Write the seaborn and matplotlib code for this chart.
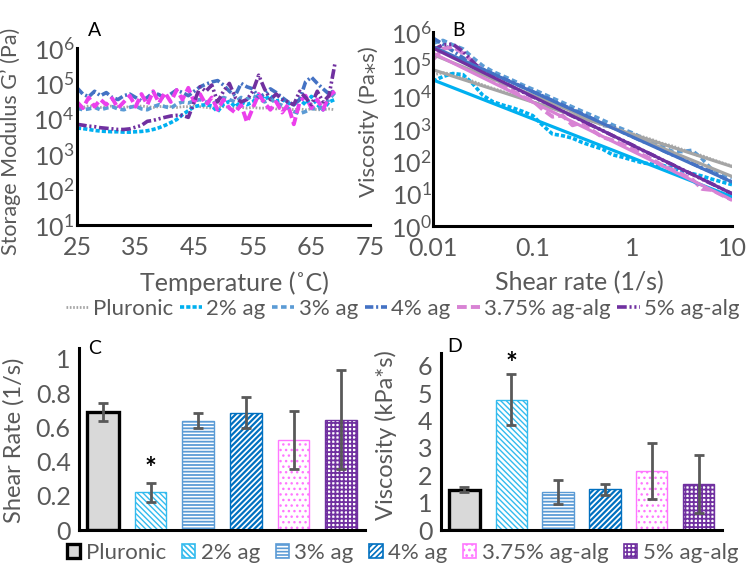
import matplotlib
matplotlib.use("Agg")
import numpy as np
import pandas as pd
import matplotlib.pyplot as plt
import seaborn as sns
from matplotlib.lines import Line2D
from matplotlib.patches import Patch
from matplotlib.ticker import FixedLocator, LogFormatterMathtext, NullLocator

# ---------------- data ----------------
series_names = ["Pluronic", "2% ag", "3% ag", "4% ag", "3.75% ag-alg", "5% ag-alg"]

temperature = [25, 26, 27, 28, 29, 30, 31, 32, 33, 34, 35, 36, 37, 38, 39,
               40, 41, 42, 43, 44, 45, 46, 47, 48, 49, 50, 51, 52, 53, 54,
               55, 56, 57, 58, 59, 60, 61, 62, 63, 64, 65, 66, 67, 68, 69]

G_pluronic = [2.2e4, 2.1e4, 2.3e4, 2.2e4, 2.1e4,
              2.2e4, 2.3e4, 2.2e4, 2.1e4, 2.2e4,
              2.2e4, 2.3e4, 2.2e4, 2.1e4, 2.2e4,
              2.3e4, 2.2e4, 2.1e4, 2.2e4, 2.2e4,
              2.3e4, 2.2e4, 2.1e4, 2.0e4, 2.1e4,
              2.2e4, 2.1e4, 2.0e4, 2.1e4, 2.0e4,
              2.1e4, 2.0e4, 2.0e4, 2.1e4, 1.9e4,
              2.0e4, 1.9e4, 1.8e4, 1.9e4, 1.8e4,
              1.9e4, 1.8e4, 1.8e4, 1.9e4, 1.8e4]
G_ag2 = [5.5e3, 5.3e3, 5.0e3, 4.7e3, 4.5e3,
         4.4e3, 4.3e3, 4.3e3, 4.2e3, 4.2e3,
         4.3e3, 4.4e3, 4.6e3, 5.0e3, 5.6e3,
         6.5e3, 7.8e3, 9.5e3, 1.3e4, 1.7e4,
         2.2e4, 2.4e4, 2.5e4, 2.3e4, 1.6e4,
         2.6e4, 3.1e4, 2.2e4, 3.0e4, 2.5e4,
         3.0e4, 4.8e4, 3.5e4, 4.5e4, 3.2e4,
         3.5e4, 2.8e4, 2.5e4, 3.5e4, 2.5e4,
         4.3e4, 2.5e4, 1.8e4, 3.0e4, 3.5e4]
G_ag3 = [2.0e4, 1.8e4, 1.9e4, 2.1e4, 1.8e4,
         2.0e4, 2.2e4, 1.9e4, 1.8e4, 2.1e4,
         2.3e4, 1.9e4, 1.8e4, 2.2e4, 2.5e4,
         2.2e4, 2.0e4, 2.6e4, 3.0e4, 2.8e4,
         3.2e4, 3.5e4, 3.0e4, 2.6e4, 3.2e4,
         4.0e4, 3.5e4, 3.0e4, 4.0e4, 3.6e4,
         4.5e4, 3.8e4, 3.0e4, 3.6e4, 2.8e4,
         2.4e4, 2.0e4, 1.6e4, 1.4e4, 1.6e4,
         2.0e4, 1.8e4, 2.2e4, 3.5e4, 5.5e4]
G_ag4 = [7.5e4, 5.0e4, 4.2e4, 6.0e4, 4.5e4,
         5.5e4, 4.0e4, 3.5e4, 4.5e4, 5.0e4,
         4.0e4, 3.2e4, 4.0e4, 5.5e4, 4.8e4,
         3.8e4, 5.0e4, 6.5e4, 5.5e4, 4.5e4,
         6.0e4, 8.0e4, 9.5e4, 1.1e5, 1.2e5,
         9.0e4, 6.0e4, 4.5e4, 1.0e5, 8.0e4,
         7.0e4, 4.0e4, 5.0e4, 7.0e4, 5.5e4,
         4.0e4, 3.0e4, 2.5e4, 3.5e4, 1.1e5,
         1.5e5, 1.0e5, 7.0e4, 5.0e4, 6.5e4]
G_agalg375 = [3.0e4, 2.0e4, 4.0e4, 2.2e4, 3.5e4,
              2.5e4, 3.8e4, 2.0e4, 3.0e4, 4.5e4,
              2.2e4, 5.0e4, 2.5e4, 6.0e4, 2.8e4,
              5.5e4, 3.0e4, 6.5e4, 3.5e4, 7.5e4,
              3.0e4, 5.0e4, 2.5e4, 4.0e4, 1.8e4,
              3.5e4, 2.0e4, 1.5e4, 2.5e4, 8.0e3,
              2.0e4, 5.0e4, 2.8e4, 1.8e4, 3.0e4,
              1.5e4, 2.5e4, 7.0e3, 3.0e4, 4.5e4,
              2.0e4, 3.5e4, 1.8e4, 4.5e4, 6.0e4]
G_agalg5 = [7.0e3, 6.6e3, 6.2e3, 6.0e3, 5.6e3,
            5.4e3, 5.2e3, 5.0e3, 5.0e3, 5.2e3,
            5.8e3, 6.5e3, 8.5e3, 9.0e3, 1.0e4,
            1.1e4, 1.2e4, 1.25e4, 1.25e4, 1.1e4,
            3.0e4, 8.0e4, 6.0e4, 9.0e4, 3.0e4,
            6.0e4, 1.0e5, 4.0e4, 3.0e4, 3.5e4,
            6.0e4, 1.7e5, 7.0e4, 3.5e4, 5.0e4,
            3.5e4, 3.0e4, 2.5e4, 6.0e4, 4.0e4,
            2.5e4, 6.0e4, 3.0e4, 4.5e4, 3.5e5]

shear_rate = [0.01, 0.0126, 0.0158, 0.02, 0.0251, 0.0316, 0.0398, 0.0501, 0.0631, 0.0794,
              0.1, 0.126, 0.158, 0.2, 0.251, 0.316, 0.398, 0.501, 0.631, 0.794,
              1.0, 1.26, 1.58, 2.0, 2.51, 3.16, 3.98, 5.01, 6.31, 7.94, 10.0]

eta_pluronic = [4.7e4, 5.5e4, 5.0e4, 3.8e4, 3.0e4, 2.3e4, 1.8e4, 1.45e4, 1.12e4, 8.8e3,
                7.0e3, 5.4e3, 4.4e3, 3.4e3, 2.8e3, 2.2e3, 1.75e3, 1.4e3, 1.1e3, 880,
                720, 580, 470, 360, 300, 235, 185, 150, 115, 90, 72]
eta_ag2 = [3.0e4, 4.2e4, 5.2e4, 4.8e4, 2.5e4, 1.1e4, 7.0e3, 5.5e3, 4.5e3, 3.5e3,
           2.6e3, 1.3e3, 700, 620, 520, 380, 300, 240, 160, 135,
           110, 90, 82, 75, 62, 50, 42, 35, 28, 23, 19]
eta_ag3 = [4.5e5, 5.5e5, 4.0e5, 3.0e5, 1.6e5, 9.0e4, 6.0e4, 4.4e4, 3.2e4, 2.3e4,
           1.7e4, 1.25e4, 9.0e3, 6.6e3, 4.8e3, 3.5e3, 2.6e3, 1.9e3, 1.35e3, 1.0e3,
           760, 530, 390, 280, 205, 200, 220, 120, 55, 40, 32]
eta_ag4 = [6.5e5, 4.2e5, 2.6e5, 1.6e5, 1.05e5, 7.1e4, 5.1e4, 3.7e4, 2.75e4, 2.0e4,
           1.44e4, 1.05e4, 7.6e3, 5.5e3, 4.0e3, 2.9e3, 2.1e3, 1.3e3, 1.2e3, 800,
           580, 420, 330, 220, 160, 125, 86, 62, 48, 32, 23]
eta_agalg375 = [1.4e5, 3.0e5, 3.5e5, 2.2e5, 1.2e5, 6.5e4, 3.6e4, 2.3e4, 1.5e4, 1.0e4,
                7.5e3, 4.0e3, 2.4e3, 2.6e3, 1.3e3, 1.6e3, 900, 560, 450, 330,
                250, 160, 115, 75, 55, 40, 28, 14, 13, 9, 6.4]
eta_agalg5 = [2.8e5, 4.0e5, 4.2e5, 2.5e5, 1.2e5, 6.0e4, 4.0e4, 2.8e4, 2.0e4, 1.4e4,
              1.0e4, 7.1e3, 5.0e3, 3.5e3, 2.5e3, 1.8e3, 1.26e3, 900, 630, 450,
              320, 220, 160, 110, 80, 56, 40, 28, 20, 14, 10]

# power-law trend lines: viscosity at shear rate 0.01 and at 10
trend_rates = [0.01, 10.0]
trend_start = [6.8e4, 3.3e4, 2.0e5, 3.5e5, 2.2e5, 3.2e5]
trend_end = [69, 8, 34, 23, 6.4, 10]

bar_labels = ["Pluronic", "2% ag", "3% ag", "4% ag", "3.75% ag-alg", "5% ag-alg"]
shear_mean = [0.69, 0.22, 0.64, 0.685, 0.525, 0.645]
shear_err = [0.05, 0.055, 0.045, 0.09, 0.17, 0.29]
visc_mean = [1.47, 4.77, 1.39, 1.49, 2.15, 1.68]
visc_err = [0.09, 0.95, 0.45, 0.20, 1.02, 1.07]

# ---------------- style ----------------
sns.set_theme(style="white")
plt.rcParams["font.family"] = ["Lato", "DejaVu Sans"]
plt.rcParams["mathtext.fontset"] = "custom"
plt.rcParams["mathtext.rm"] = "Lato"
plt.rcParams["mathtext.it"] = "Lato:italic"
plt.rcParams["mathtext.bf"] = "Lato:bold"
plt.rcParams["lines.scale_dashes"] = False
plt.rcParams["hatch.linewidth"] = 1.2

GREY_TXT = "#595959"
TICK_FS = 18
LEG_FS = 16

colors_A = ["#A5A5A5", "#00B0F0", "#5B9BD5", "#4472C4", "#EC3FEC", "#7030A0"]
colors_B = ["#A5A5A5", "#00B0F0", "#5B9BD5", "#4472C4", "#D883D4", "#7030A0"]
trend_colors = ["#A5A5A5", "#00B0F0", "#A5A5A5", "#4472C4", "#D883D4", "#7030A0"]
styles = [(0, (1.2, 1.2)), (0, (3, 1.5)), (0, (4, 2.5)), (0, (6, 2, 1.5, 2)),
          (0, (7, 3)), (0, (7, 2, 1.5, 2, 1.5, 2))]
widths = [2.0, 2.6, 2.6, 2.6, 2.8, 2.6]

fig = plt.figure(figsize=(7.5, 5.71), dpi=100)


def style_axes(ax):
    for s in ["top", "right"]:
        ax.spines[s].set_visible(False)
    for s in ["left", "bottom"]:
        ax.spines[s].set_color("black")
        ax.spines[s].set_linewidth(2.2)
    ax.tick_params(axis="both", length=0, labelsize=TICK_FS, labelcolor=GREY_TXT, pad=6)
    ax.grid(False)


# ---------------- panel A ----------------
axA = fig.add_axes([77 / 750, 1 - 225 / 571, 293 / 750, 177 / 571])
A_data = [G_pluronic, G_ag2, G_ag3, G_ag4, G_agalg375, G_agalg5]
for i, vals in enumerate(A_data):
    sns.lineplot(x=temperature, y=vals, ax=axA, color=colors_A[i], linestyle=styles[i],
                 linewidth=widths[i], estimator=None, errorbar=None)
axA.set_yscale("log")
axA.set_ylim(10, 1e6)
axA.set_xlim(25, 75)
axA.yaxis.set_major_locator(FixedLocator([1e1, 1e2, 1e3, 1e4, 1e5, 1e6]))
axA.yaxis.set_major_formatter(LogFormatterMathtext())
axA.yaxis.set_minor_locator(NullLocator())
axA.set_xticks([25, 35, 45, 55, 65, 75])
style_axes(axA)
axA.tick_params(axis="y", pad=2)
axA.tick_params(axis="x", pad=8)
axA.set_xlabel("Temperature (˚C)", fontsize=18, color=GREY_TXT)
axA.set_ylabel("Storage Modulus G’ (Pa)", fontsize=15.5, color=GREY_TXT)
axA.xaxis.set_label_coords(0.539, -0.26)
axA.yaxis.set_label_coords(-0.19, 0.47)

# ---------------- panel B ----------------
axB = fig.add_axes([433 / 750, 1 - 226 / 571, 299 / 750, 194 / 571])
B_data = [eta_pluronic, eta_ag2, eta_ag3, eta_ag4, eta_agalg375, eta_agalg5]
for i, vals in enumerate(B_data):
    sns.lineplot(x=shear_rate, y=vals, ax=axB, color=colors_B[i], linestyle=styles[i],
                 linewidth=widths[i], estimator=None, errorbar=None)
for i in range(6):
    sns.lineplot(x=trend_rates, y=[trend_start[i], trend_end[i]], ax=axB,
                 color=trend_colors[i], linewidth=2.3, estimator=None, errorbar=None)
axB.set_xscale("log")
axB.set_yscale("log")
axB.set_xlim(0.01, 10)
axB.set_ylim(1, 1e6)
axB.set_xticks([0.01, 0.1, 1, 10])
axB.set_xticklabels(["0.01", "0.1", "1", "10"])
axB.xaxis.set_minor_locator(NullLocator())
axB.yaxis.set_major_locator(FixedLocator([1e0, 1e1, 1e2, 1e3, 1e4, 1e5, 1e6]))
axB.yaxis.set_major_formatter(LogFormatterMathtext())
axB.yaxis.set_minor_locator(NullLocator())
style_axes(axB)
axB.tick_params(axis="y", pad=1)
axB.tick_params(axis="x", pad=8)
axB.set_xlabel("Shear rate (1/s)", fontsize=18, color=GREY_TXT)
axB.set_ylabel("Viscosity (Pa⁎s)", fontsize=16, color=GREY_TXT)
axB.xaxis.set_label_coords(0.49, -0.232)
axB.yaxis.set_label_coords(-0.18, 0.536)

# top legend
line_handles = [Line2D([0], [0], color=colors_B[i], linestyle=styles[i], linewidth=widths[i])
                for i in range(6)]
fig.legend(line_handles, series_names, loc="center", bbox_to_anchor=(0.537, 1 - 309 / 571),
           ncol=6, frameon=False, fontsize=LEG_FS, labelcolor=GREY_TXT,
           handlelength=1.0, handletextpad=0.2, columnspacing=0.3, borderaxespad=0,
           borderpad=0)

# ---------------- bars ----------------
bar_face = ["#D9D9D9", "white", "white", "white", "white", "white"]
bar_edge = ["black", "#33BBEE", "#5B9BD5", "#0070C0", "#FF77FF", "#7030A0"]
bar_hatch = [None, "\\\\\\\\\\\\", "-----", "//////", "...", "++++"]
bar_hlw = [1.0, 1.0, 1.3, 1.6, 1.0, 1.3]
bar_lw = [2.4, 1.0, 1.0, 1.0, 1.0, 1.0]


def bar_panel(ax, means, errs, ylim, ticks, ticklabels, star_y):
    df = pd.DataFrame({"group": bar_labels, "value": means})
    sns.barplot(data=df, x="group", y="value", ax=ax, color="white", width=0.67,
                errorbar=None, order=bar_labels)
    for i, p in enumerate(ax.patches):
        p.set_facecolor(bar_face[i])
        p.set_edgecolor(bar_edge[i])
        p.set_linewidth(bar_lw[i])
        if bar_hatch[i]:
            p.set_hatch(bar_hatch[i])
            if hasattr(p, "set_hatch_linewidth"):
                p.set_hatch_linewidth(bar_hlw[i])
    ax.errorbar(np.arange(6), means, yerr=errs, fmt="none", ecolor=GREY_TXT,
                elinewidth=2.0, capsize=3.5, capthick=2.0, zorder=5)
    ax.text(1, star_y, "*", ha="center", va="center", fontsize=20, fontweight="bold",
            color="black")
    ax.set_xlim(-0.5, 5.5)
    ax.set_ylim(*ylim)
    ax.set_yticks(ticks)
    ax.set_yticklabels(ticklabels)
    ax.set_xticks([])
    ax.set_xlabel("")
    style_axes(ax)


axC = fig.add_axes([79 / 750, 1 - 530 / 571, 286 / 750, 182 / 571])
bar_panel(axC, shear_mean, shear_err, (0, 1.064), [0, 0.2, 0.4, 0.6, 0.8, 1.0],
          ["0", "0.2", "0.4", "0.6", "0.8", "1"], 0.355)
axC.set_ylabel("Shear Rate (1/s)", fontsize=17, color=GREY_TXT)
axC.yaxis.set_label_coords(-0.19, 0.495)

axD = fig.add_axes([441 / 750, 1 - 530 / 571, 281 / 750, 177 / 571])
bar_panel(axD, visc_mean, visc_err, (0, 6.47), [0, 1, 2, 3, 4, 5, 6],
          ["0", "1", "2", "3", "4", "5", "6"], 6.05)
axD.set_ylabel("Viscosity (kPa*s)", fontsize=17, color=GREY_TXT)
axD.yaxis.set_label_coords(-0.155, 0.537)

patch_handles = []
for i in range(6):
    ph = Patch(facecolor=bar_face[i], edgecolor=bar_edge[i], hatch=bar_hatch[i],
               linewidth=max(bar_lw[i], 1.2))
    patch_handles.append(ph)
fig.legend(patch_handles, bar_labels, loc="center", bbox_to_anchor=(0.537, 1 - 553 / 571),
           ncol=6, frameon=False, fontsize=LEG_FS, labelcolor=GREY_TXT,
           handlelength=0.6, handleheight=0.6, handletextpad=0.25, columnspacing=0.7,
           borderaxespad=0, borderpad=0)

# panel letters
fig.text(95 / 750, 1 - 31 / 571, "A", fontsize=14, color="black", ha="center", va="center")
fig.text(459 / 750, 1 - 30 / 571, "B", fontsize=14, color="black", ha="center", va="center")
fig.text(95 / 750, 1 - 349 / 571, "C", fontsize=14, color="black", ha="center", va="center")
fig.text(455 / 750, 1 - 347 / 571, "D", fontsize=14, color="black", ha="center", va="center")

fig.savefig("out.png", dpi=100)
